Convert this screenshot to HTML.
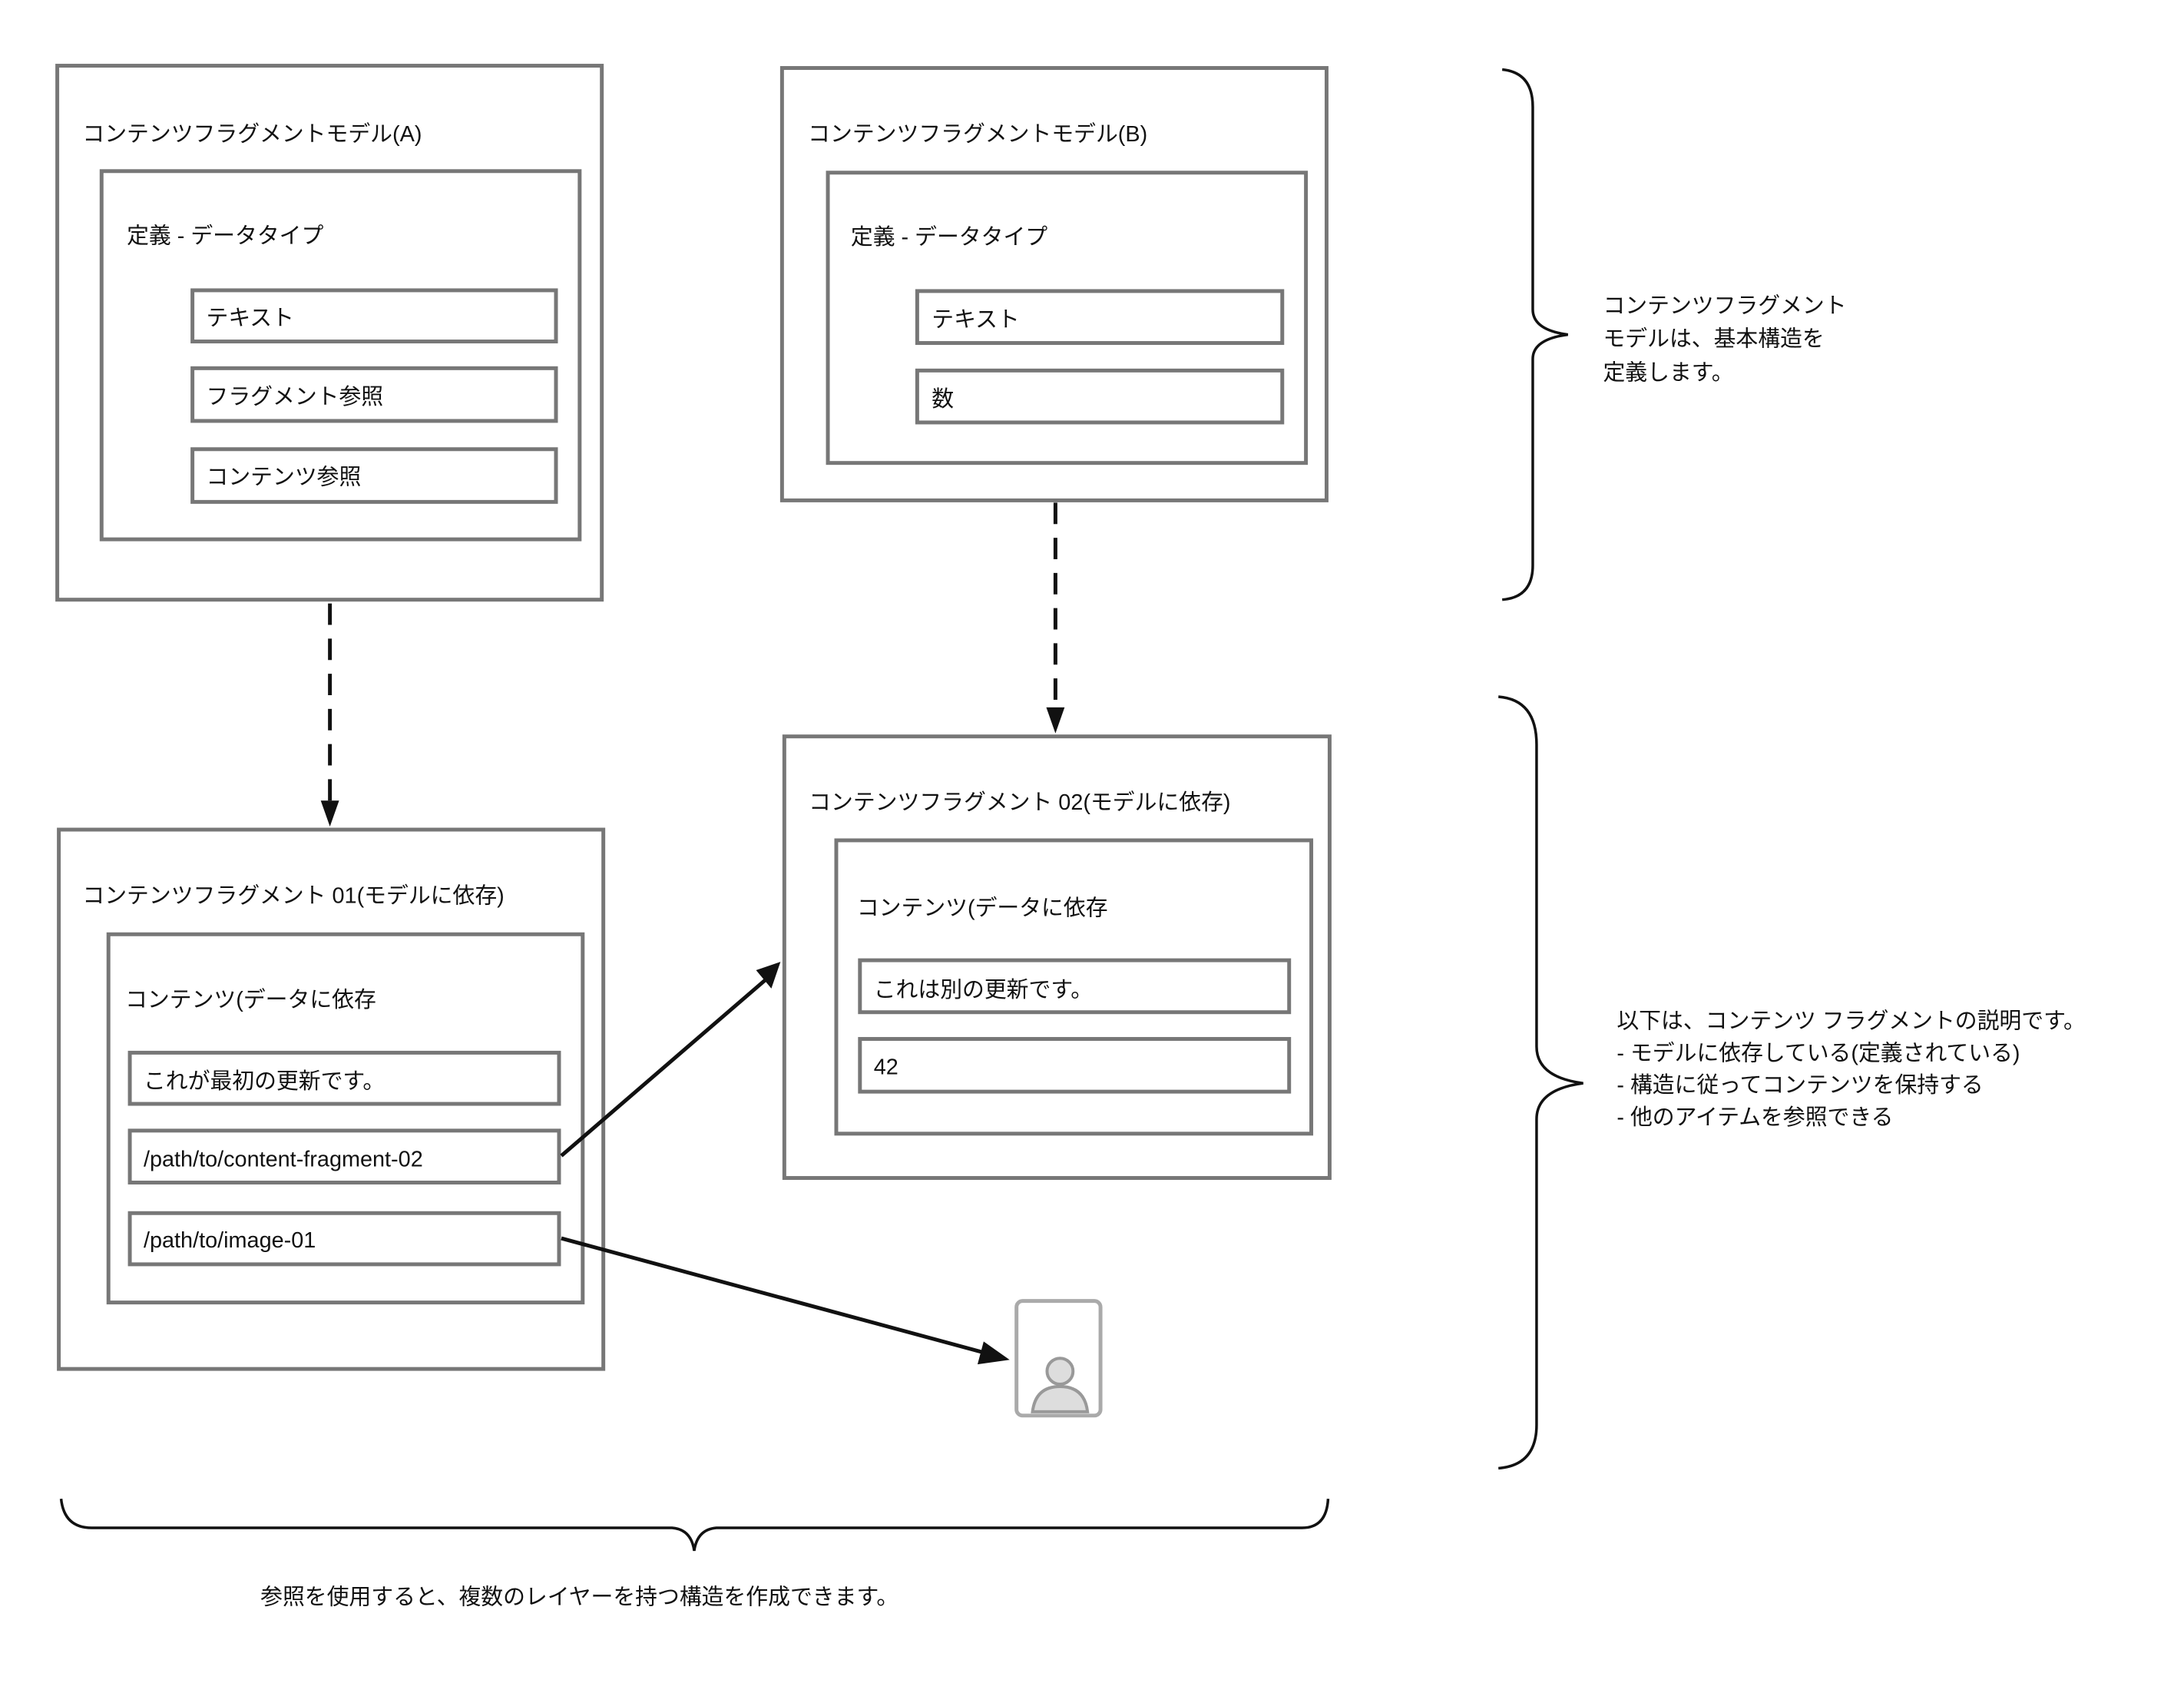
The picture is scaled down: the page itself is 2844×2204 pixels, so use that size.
<!DOCTYPE html>
<html><head><meta charset="utf-8"><style>
html,body{margin:0;padding:0;background:#fff;}
svg text{font-family:"Liberation Sans","Noto Sans CJK JP",sans-serif;fill:#111;}
</style></head><body>
<svg width="2844" height="2199" viewBox="0 0 2844 2199" xmlns="http://www.w3.org/2000/svg">
<g transform="scale(0.9945)">
<g fill="none" stroke="#777" stroke-width="5">
<rect x="75" y="86" width="713" height="699"/>
<rect x="133" y="224" width="626" height="482"/>
<rect x="252" y="380" width="476" height="67"/>
<rect x="252" y="482" width="476" height="69"/>
<rect x="252" y="588" width="476" height="69"/>
<rect x="1024" y="89" width="713" height="566"/>
<rect x="1084" y="226" width="626" height="380"/>
<rect x="1201" y="381" width="478" height="68"/>
<rect x="1201" y="485" width="478" height="68"/>
<rect x="1027" y="964" width="714" height="578"/>
<rect x="1095" y="1100" width="622" height="384"/>
<rect x="1126" y="1257" width="562" height="68"/>
<rect x="1126" y="1360" width="562" height="69"/>
<rect x="77" y="1086" width="713" height="706"/>
<rect x="142" y="1223" width="621" height="482"/>
<rect x="170" y="1378" width="562" height="67"/>
<rect x="170" y="1480" width="562" height="68"/>
<rect x="170" y="1588" width="562" height="67"/>
</g>
<g font-size="29">
<text x="108" y="185">コンテンツフラグメントモデル(A)</text>
<text x="166" y="318">定義 - データタイプ</text>
<text x="270" y="426">テキスト</text>
<text x="270" y="529">フラグメント参照</text>
<text x="270" y="634">コンテンツ参照</text>
<text x="1058" y="185">コンテンツフラグメントモデル(B)</text>
<text x="1114" y="320">定義 - データタイプ</text>
<text x="1220" y="428">テキスト</text>
<text x="1220" y="532">数</text>
<text x="1059" y="1060">コンテンツフラグメント 02(モデルに依存)</text>
<text x="1122" y="1198">コンテンツ(データに依存</text>
<text x="1144" y="1305">これは別の更新です。</text>
<text x="1144" y="1406">42</text>
<text x="108" y="1182">コンテンツフラグメント 01(モデルに依存)</text>
<text x="164" y="1318">コンテンツ(データに依存</text>
<text x="188" y="1425">これが最初の更新です。</text>
<text x="188" y="1527">/path/to/content-fragment-02</text>
<text x="188" y="1633">/path/to/image-01</text>
<text x="2099" y="410">コンテンツフラグメント</text>
<text x="2099" y="453">モデルは、基本構造を</text>
<text x="2099" y="497">定義します。</text>
<text x="2117" y="1346">以下は、コンテンツ フラグメントの説明です。</text>
<text x="2117" y="1388">- モデルに依存している(定義されている)</text>
<text x="2117" y="1430">- 構造に従ってコンテンツを保持する</text>
<text x="2117" y="1472">- 他のアイテムを参照できる</text>
<text x="341" y="2100">参照を使用すると、複数のレイヤーを持つ構造を作成できます。</text>
</g>
<g stroke="#111" stroke-width="5" fill="none" stroke-dasharray="28,18">
<line x1="432" y1="790" x2="432" y2="1050"/>
<line x1="1382" y1="658" x2="1382" y2="928"/>
</g>
<polygon points="420,1048 444,1048 432,1082" fill="#111"/>
<polygon points="1370,926 1394,926 1382,960" fill="#111"/>
<g stroke="#111" stroke-width="5" fill="none">
<line x1="735" y1="1513" x2="1003" y2="1282"/>
<line x1="735" y1="1621" x2="1290" y2="1771"/>
</g>
<polygon points="1022,1259 990,1270 1010,1294" fill="#111"/>
<polygon points="1322,1780 1288,1756 1280,1786" fill="#111"/>
<rect x="1331" y="1703" width="110" height="150" rx="8" fill="#fff" stroke="#aaa" stroke-width="5"/>
<circle cx="1388" cy="1795" r="17" fill="#ddd" stroke="#999" stroke-width="4"/>
<path d="M1352,1848 Q1356,1815 1388,1815 Q1420,1815 1424,1848 Z" fill="#ddd" stroke="#999" stroke-width="4"/>
<g stroke="#111" stroke-width="3.5" fill="none">
<path d="M1967,91 Q2007,95 2007,140 L2007,405 Q2007,432 2053,438 Q2007,444 2007,470 L2007,740 Q2007,782 1967,785"/>
<path d="M1962,912 Q2012,916 2012,975 L2012,1370 Q2012,1410 2073,1418 Q2012,1426 2012,1465 L2012,1865 Q2012,1918 1962,1922"/>
<path d="M80,1962 Q84,2000 120,2000 L880,2000 Q905,2002 909,2030 Q913,2002 938,2000 L1705,2000 Q1737,2000 1739,1962"/>
</g>
</g>
</svg>
</body></html>
